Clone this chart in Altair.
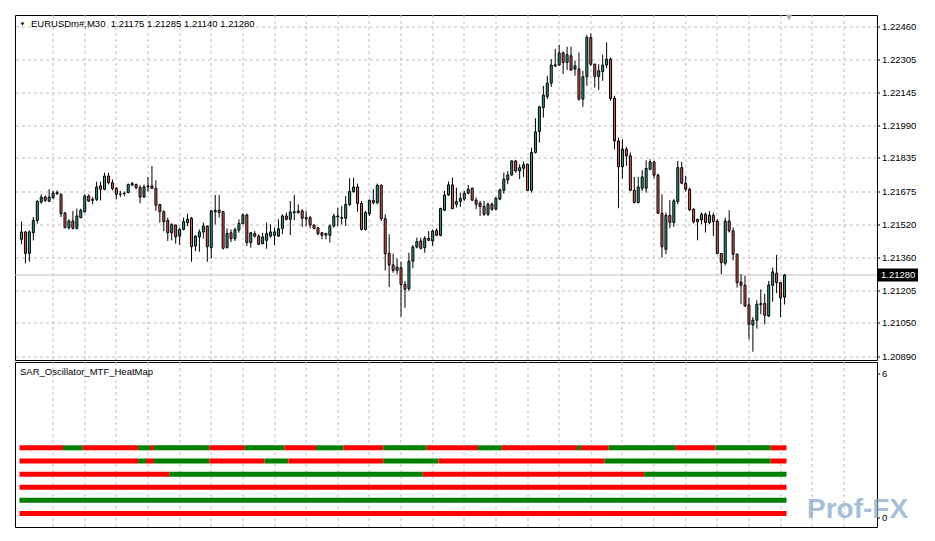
import altair as alt
import pandas as pd

SYMBOL = "EURUSDm#,M30"
INDICATOR = "SAR_Oscillator_MTF_HeatMap"

open_ = [1.21450, 1.21485, 1.21383, 1.21481, 1.21540, 1.21627, 1.21651, 1.21631, 1.21648, 1.21667,
         1.21664, 1.21575, 1.21505, 1.21537, 1.21502, 1.21553, 1.21581, 1.21656, 1.21640, 1.21640,
         1.21704, 1.21688, 1.21751, 1.21719, 1.21692, 1.21664, 1.21667, 1.21672, 1.21708, 1.21711,
         1.21696, 1.21651, 1.21699, 1.21704, 1.21692, 1.21616, 1.21581, 1.21540, 1.21481, 1.21518,
         1.21465, 1.21497, 1.21529, 1.21550, 1.21418, 1.21461, 1.21485, 1.21513, 1.21410, 1.21581,
         1.21588, 1.21581, 1.21410, 1.21481, 1.21453, 1.21494, 1.21524, 1.21566, 1.21434, 1.21477,
         1.21465, 1.21429, 1.21445, 1.21465, 1.21469, 1.21465, 1.21502, 1.21561, 1.21545, 1.21577,
         1.21577, 1.21585, 1.21553, 1.21553, 1.21518, 1.21505, 1.21481, 1.21477, 1.21469, 1.21513,
         1.21556, 1.21550, 1.21550, 1.21616, 1.21677, 1.21699, 1.21621, 1.21497, 1.21572, 1.21635,
         1.21624, 1.21707, 1.21548, 1.21383, 1.21328, 1.21302, 1.21315, 1.21235, 1.21215, 1.21346,
         1.21413, 1.21442, 1.21410, 1.21454, 1.21442, 1.21492, 1.21469, 1.21588, 1.21661, 1.21709,
         1.21617, 1.21630, 1.21641, 1.21669, 1.21693, 1.21636, 1.21622, 1.21606, 1.21569, 1.21617,
         1.21593, 1.21641, 1.21683, 1.21733, 1.21756, 1.21823, 1.21775, 1.21788, 1.21807, 1.21683,
         1.21863, 1.21963, 1.22077, 1.22129, 1.22193, 1.22274, 1.22279, 1.22337, 1.22291, 1.22323,
         1.22260, 1.22260, 1.22117, 1.22223, 1.22410, 1.22283, 1.22225, 1.22248, 1.22279, 1.22307,
         1.22121, 1.21918, 1.21795, 1.21879, 1.21847, 1.21683, 1.21625, 1.21693, 1.21693, 1.21783,
         1.21818, 1.21755, 1.21574, 1.21402, 1.21564, 1.21530, 1.21630, 1.21791, 1.21717, 1.21688,
         1.21593, 1.21545, 1.21542, 1.21569, 1.21530, 1.21564, 1.21537, 1.21382, 1.21336, 1.21537,
         1.21490, 1.21379, 1.21247, 1.21231, 1.21138, 1.21042, 1.21065, 1.21139, 1.21144, 1.21085,
         1.21231, 1.21288, 1.21244, 1.21175]

high_ = [1.21534, 1.21489, 1.21492, 1.21556, 1.21635, 1.21664, 1.21659, 1.21688, 1.21680, 1.21683,
         1.21668, 1.21581, 1.21545, 1.21585, 1.21596, 1.21596, 1.21664, 1.21664, 1.21651, 1.21724,
         1.21724, 1.21767, 1.21767, 1.21735, 1.21699, 1.21680, 1.21677, 1.21715, 1.21723, 1.21715,
         1.21707, 1.21711, 1.21746, 1.21799, 1.21731, 1.21618, 1.21588, 1.21553, 1.21526, 1.21521,
         1.21505, 1.21553, 1.21572, 1.21556, 1.21469, 1.21497, 1.21529, 1.21516, 1.21588, 1.21661,
         1.21661, 1.21585, 1.21502, 1.21497, 1.21505, 1.21545, 1.21572, 1.21572, 1.21485, 1.21489,
         1.21474, 1.21481, 1.21529, 1.21521, 1.21505, 1.21545, 1.21569, 1.21577, 1.21632, 1.21661,
         1.21616, 1.21593, 1.21585, 1.21561, 1.21521, 1.21508, 1.21485, 1.21481, 1.21521, 1.21572,
         1.21600, 1.21608, 1.21656, 1.21740, 1.21743, 1.21715, 1.21632, 1.21585, 1.21640, 1.21688,
         1.21715, 1.21711, 1.21569, 1.21474, 1.21381, 1.21359, 1.21343, 1.21251, 1.21386, 1.21423,
         1.21458, 1.21458, 1.21465, 1.21489, 1.21497, 1.21502, 1.21600, 1.21680, 1.21725, 1.21744,
         1.21696, 1.21672, 1.21680, 1.21709, 1.21696, 1.21649, 1.21633, 1.21633, 1.21625, 1.21625,
         1.21652, 1.21691, 1.21767, 1.21775, 1.21826, 1.21826, 1.21807, 1.21820, 1.21810, 1.21886,
         1.22026, 1.22085, 1.22180, 1.22228, 1.22307, 1.22355, 1.22375, 1.22344, 1.22366, 1.22366,
         1.22299, 1.22339, 1.22252, 1.22423, 1.22429, 1.22286, 1.22283, 1.22328, 1.22387, 1.22315,
         1.22133, 1.21934, 1.21926, 1.21890, 1.21863, 1.21747, 1.21747, 1.21779, 1.21826, 1.21831,
         1.21823, 1.21763, 1.21664, 1.21577, 1.21636, 1.21641, 1.21823, 1.21818, 1.21752, 1.21696,
         1.21598, 1.21549, 1.21577, 1.21577, 1.21585, 1.21577, 1.21545, 1.21385, 1.21553, 1.21588,
         1.21506, 1.21382, 1.21284, 1.21276, 1.21172, 1.21080, 1.21160, 1.21212, 1.21191, 1.21252,
         1.21315, 1.21376, 1.21247, 1.21285]

low_ = [1.21426, 1.21335, 1.21343, 1.21445, 1.21524, 1.21619, 1.21627, 1.21627, 1.21640, 1.21661,
        1.21556, 1.21503, 1.21496, 1.21497, 1.21497, 1.21550, 1.21577, 1.21627, 1.21616, 1.21632,
        1.21635, 1.21683, 1.21711, 1.21683, 1.21640, 1.21651, 1.21656, 1.21670, 1.21704, 1.21688,
        1.21621, 1.21648, 1.21677, 1.21690, 1.21585, 1.21529, 1.21489, 1.21442, 1.21445, 1.21429,
        1.21423, 1.21492, 1.21513, 1.21343, 1.21394, 1.21391, 1.21453, 1.21343, 1.21359, 1.21521,
        1.21553, 1.21402, 1.21407, 1.21437, 1.21442, 1.21481, 1.21521, 1.21418, 1.21410, 1.21458,
        1.21423, 1.21426, 1.21405, 1.21458, 1.21423, 1.21461, 1.21474, 1.21540, 1.21470, 1.21540,
        1.21572, 1.21508, 1.21513, 1.21502, 1.21497, 1.21469, 1.21450, 1.21450, 1.21434, 1.21505,
        1.21513, 1.21521, 1.21513, 1.21608, 1.21672, 1.21581, 1.21492, 1.21492, 1.21561, 1.21616,
        1.21616, 1.21537, 1.21302, 1.21223, 1.21291, 1.21283, 1.21082, 1.21124, 1.21204, 1.21312,
        1.21407, 1.21402, 1.21386, 1.21442, 1.21418, 1.21465, 1.21464, 1.21585, 1.21656, 1.21593,
        1.21601, 1.21604, 1.21633, 1.21664, 1.21633, 1.21593, 1.21561, 1.21561, 1.21561, 1.21585,
        1.21588, 1.21636, 1.21667, 1.21712, 1.21752, 1.21767, 1.21736, 1.21747, 1.21680, 1.21672,
        1.21858, 1.21910, 1.22029, 1.22117, 1.22175, 1.22271, 1.22275, 1.22236, 1.22255, 1.22252,
        1.22228, 1.22109, 1.22080, 1.22180, 1.22275, 1.22172, 1.22160, 1.22204, 1.22264, 1.22109,
        1.21879, 1.21598, 1.21739, 1.21799, 1.21680, 1.21620, 1.21620, 1.21680, 1.21672, 1.21779,
        1.21740, 1.21571, 1.21363, 1.21379, 1.21502, 1.21509, 1.21617, 1.21712, 1.21677, 1.21585,
        1.21525, 1.21445, 1.21522, 1.21482, 1.21522, 1.21466, 1.21379, 1.21284, 1.21326, 1.21482,
        1.21350, 1.21220, 1.21141, 1.21128, 1.20974, 1.20915, 1.21025, 1.21093, 1.21045, 1.21080,
        1.21153, 1.21193, 1.21080, 1.21140]

close_ = [1.21485, 1.21383, 1.21485, 1.21540, 1.21631, 1.21651, 1.21635, 1.21651, 1.21670, 1.21673,
          1.21572, 1.21505, 1.21537, 1.21502, 1.21561, 1.21588, 1.21656, 1.21632, 1.21635, 1.21699,
          1.21688, 1.21751, 1.21719, 1.21692, 1.21664, 1.21665, 1.21669, 1.21711, 1.21715, 1.21696,
          1.21651, 1.21699, 1.21704, 1.21692, 1.21612, 1.21581, 1.21534, 1.21481, 1.21521, 1.21461,
          1.21497, 1.21534, 1.21545, 1.21415, 1.21465, 1.21485, 1.21513, 1.21415, 1.21585, 1.21588,
          1.21577, 1.21407, 1.21478, 1.21453, 1.21497, 1.21526, 1.21566, 1.21434, 1.21481, 1.21465,
          1.21426, 1.21461, 1.21477, 1.21485, 1.21485, 1.21500, 1.21561, 1.21545, 1.21580, 1.21581,
          1.21585, 1.21550, 1.21548, 1.21518, 1.21502, 1.21477, 1.21469, 1.21470, 1.21513, 1.21561,
          1.21561, 1.21553, 1.21616, 1.21677, 1.21699, 1.21621, 1.21497, 1.21577, 1.21635, 1.21624,
          1.21707, 1.21548, 1.21381, 1.21328, 1.21302, 1.21318, 1.21235, 1.21212, 1.21346, 1.21413,
          1.21439, 1.21407, 1.21454, 1.21445, 1.21489, 1.21469, 1.21596, 1.21660, 1.21709, 1.21596,
          1.21630, 1.21644, 1.21669, 1.21688, 1.21636, 1.21617, 1.21606, 1.21569, 1.21617, 1.21593,
          1.21645, 1.21685, 1.21736, 1.21756, 1.21823, 1.21775, 1.21791, 1.21804, 1.21683, 1.21863,
          1.21961, 1.22080, 1.22136, 1.22193, 1.22279, 1.22280, 1.22336, 1.22291, 1.22328, 1.22255,
          1.22275, 1.22117, 1.22223, 1.22410, 1.22283, 1.22225, 1.22252, 1.22279, 1.22307, 1.22120,
          1.21918, 1.21795, 1.21879, 1.21847, 1.21683, 1.21625, 1.21699, 1.21747, 1.21787, 1.21818,
          1.21755, 1.21574, 1.21414, 1.21564, 1.21530, 1.21633, 1.21791, 1.21717, 1.21688, 1.21590,
          1.21534, 1.21534, 1.21569, 1.21530, 1.21564, 1.21534, 1.21382, 1.21339, 1.21537, 1.21490,
          1.21379, 1.21244, 1.21231, 1.21133, 1.21045, 1.21065, 1.21141, 1.21144, 1.21088, 1.21233,
          1.21295, 1.21244, 1.21172, 1.21280]

price_ticks = [1.22460, 1.22305, 1.22145, 1.21990, 1.21835, 1.21675,
               1.21520, 1.21360, 1.21205, 1.21050, 1.20890]
last_price = close_[-1]
time_grid = list(range(8, 209, 8))

# heat map rows (top to bottom): bar-index edges and state of each segment
heat_levels = [2.92, 2.37, 1.82, 1.27, 0.73, 0.18]
heat_edges = [
    [0, 11, 16, 30, 33, 34, 48, 57, 67, 75, 82, 92, 103, 116, 122, 141, 142, 149, 166, 176, 190, 194],
    [0, 30, 32, 34, 48, 62, 68, 92, 106, 148, 190, 194],
    [0, 38, 102, 158, 194],
    [0, 194],
    [0, 194],
    [0, 194],
]
heat_states = [
    ["sell", "buy", "sell", "buy", "sell", "buy", "sell", "buy", "sell", "buy", "sell",
     "buy", "sell", "buy", "sell", "buy", "sell", "buy", "sell", "buy", "sell"],
    ["sell", "buy", "sell", "buy", "sell", "buy", "sell", "buy", "sell", "buy", "sell"],
    ["sell", "buy", "sell", "buy"],
    ["sell"],
    ["buy"],
    ["sell"],
]

BULL = "#2E9E8A"
BEAR = "#E2594F"
GRID = "#C0C0C0"
FONT = "Liberation Sans"
FS = 9.5

n = len(close_)
bars = pd.DataFrame({"i": list(range(n)), "o": open_, "h": high_, "l": low_, "c": close_})
bars["dir"] = ["bull" if c >= o else "bear" for o, c in zip(open_, close_)]

rows = []
for lvl, edges, states in zip(heat_levels, heat_edges, heat_states):
    for k, s in enumerate(states):
        rows.append({"x0": edges[k] - 0.5, "x1": edges[k + 1] - 0.5, "level": lvl, "state": s})
segs = pd.DataFrame(rows)

W, H1, H2 = 862, 345, 165
xscale = alt.Scale(domain=[-0.375, 215.125], nice=False, zero=False)
xaxis = alt.Axis(values=time_grid, labels=False, ticks=False, domain=False, grid=True, title=None)
yscale = alt.Scale(domain=[1.208757, 1.225171], nice=False, zero=False)
yaxis = alt.Axis(orient="right", values=price_ticks, format=".5f", title=None, grid=True,
                 tickSize=3, labelPadding=2, domain=False, labelFlush=False, labelOverlap=False)

X = alt.X("i:Q", scale=xscale, axis=xaxis)

lp = pd.DataFrame({"p": [last_price]})
price_line = alt.Chart(lp).mark_rule(color=GRID, strokeWidth=1).encode(
    y=alt.Y("p:Q", scale=yscale, axis=yaxis))
wicks = alt.Chart(bars).mark_rule(color="black", strokeWidth=1).encode(
    x=X, y=alt.Y("l:Q", scale=yscale, axis=yaxis), y2="h:Q")
bodies = alt.Chart(bars).mark_bar(size=2, stroke="black", strokeWidth=1).encode(
    x=X, y=alt.Y("o:Q", scale=yscale, axis=yaxis), y2="c:Q",
    color=alt.Color("dir:N", scale=alt.Scale(domain=["bull", "bear"], range=[BULL, BEAR]), legend=None))
price_box = alt.Chart(lp).mark_rule(color="black", strokeWidth=13).encode(
    x=alt.value(863), x2=alt.value(903), y=alt.Y("p:Q", scale=yscale, axis=yaxis))
price_txt = alt.Chart(lp).mark_text(align="left", baseline="middle", color="white",
                                    font=FONT, fontSize=FS).encode(
    x=alt.value(866), y=alt.Y("p:Q", scale=yscale, axis=yaxis), text=alt.Text("p:Q", format=".5f"))

header = "{}\u00a0 {:.5f} {:.5f} {:.5f} {:.5f}".format(SYMBOL, open_[-1], high_[-1], low_[-1], close_[-1])
hdr = alt.Chart(pd.DataFrame({"t": [header]})).mark_text(
    align="left", baseline="middle", font=FONT, fontSize=FS, color="black").encode(
    x=alt.value(16), y=alt.value(9), text="t:N")
tri = alt.Chart(pd.DataFrame({"t": [0]})).mark_point(
    shape="triangle-down", filled=True, color="black", size=14, opacity=1).encode(
    x=alt.value(7.5), y=alt.value(9))
shift = alt.Chart(pd.DataFrame({"t": [0]})).mark_point(
    shape="triangle-down", filled=True, color="#A8A8A8", size=40, opacity=1).encode(
    x=alt.value(774), y=alt.value(2.5))

main = alt.layer(price_line, wicks, bodies, price_box, price_txt, hdr, tri, shift).properties(
    width=W, height=H1)

yh_scale = alt.Scale(domain=[-0.176, 6.294], nice=False, zero=False)
yh_axis = alt.Axis(orient="right", values=[0, 6], format="d", title=None, grid=False,
                   tickSize=3, labelPadding=2, domain=False, labelFlush=False)
heat = alt.Chart(segs).mark_bar(size=5, clip=True).encode(
    x=alt.X("x0:Q", scale=xscale, axis=xaxis), x2="x1:Q",
    y=alt.Y("level:Q", scale=yh_scale, axis=yh_axis),
    color=alt.Color("state:N", scale=alt.Scale(domain=["buy", "sell"], range=["#008000", "#FF0000"]),
                    legend=None))
ind_lbl = alt.Chart(pd.DataFrame({"t": [INDICATOR]})).mark_text(
    align="left", baseline="middle", font=FONT, fontSize=FS, color="black").encode(
    x=alt.value(5), y=alt.value(10), text="t:N")
wm = alt.Chart(pd.DataFrame({"t": ["Prof-FX"]})).mark_text(
    align="left", baseline="alphabetic", font=FONT, fontSize=28, fontWeight="bold",
    color="#7FA6C8", opacity=0.7).encode(x=alt.value(792), y=alt.value(156), text="t:N")

sub = alt.layer(heat, wm, ind_lbl).properties(width=W, height=H2)

chart = alt.vconcat(main, sub, spacing=2, bounds="flush").resolve_scale(
    color="independent", y="independent", x="shared"
).configure(
    padding={"left": 6, "top": 6, "right": 0, "bottom": 0}, background="white"
).configure_view(
    stroke="black", strokeWidth=1
).configure_axis(
    gridColor=GRID, gridDash=[3, 3], gridWidth=1, gridOpacity=1,
    labelFont=FONT, labelFontSize=FS, labelColor="black", tickColor="black", translate=0
)

chart.save("out.html", embed_options={"renderer": "svg", "actions": False})
